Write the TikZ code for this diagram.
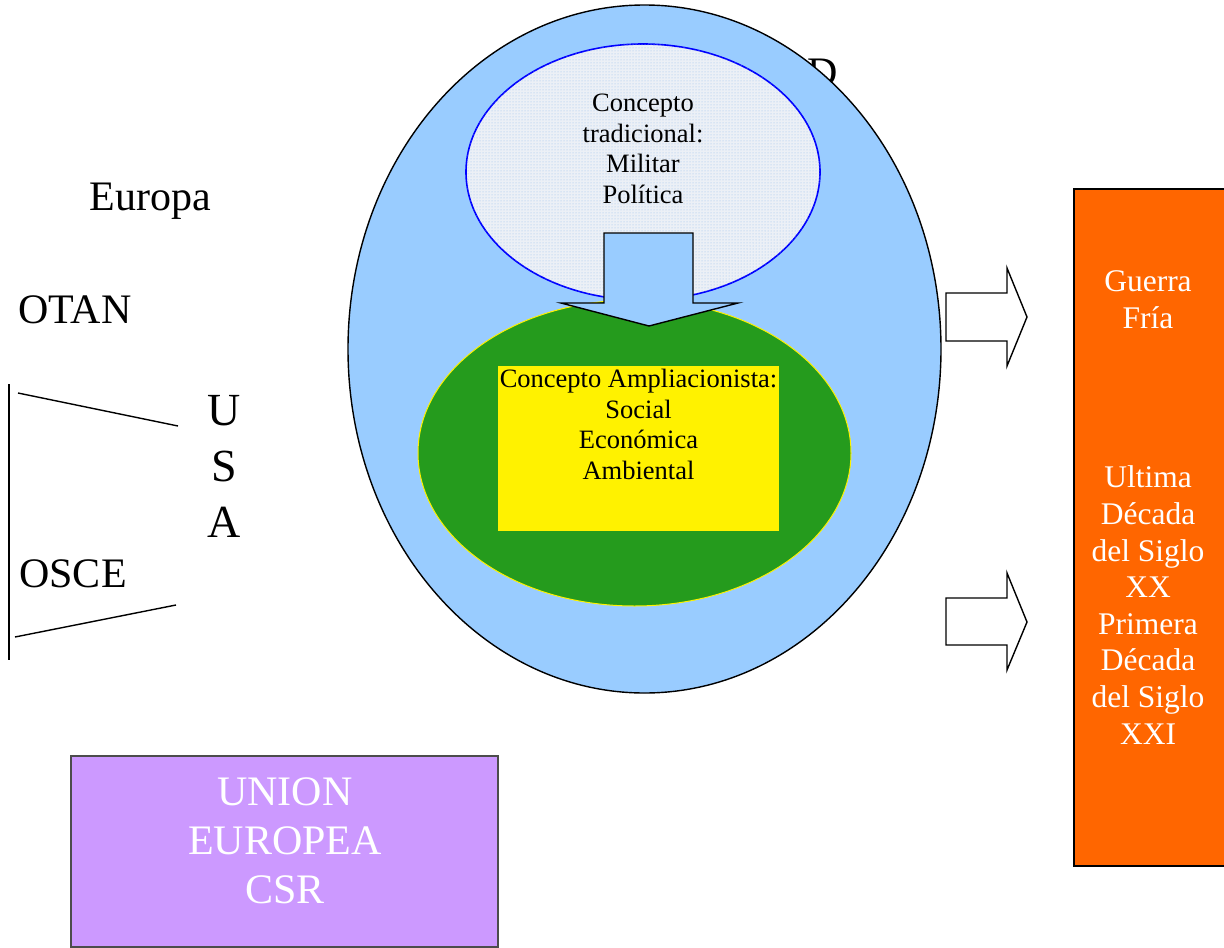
\documentclass[tikz,border=0pt]{standalone}
\usepackage{fontspec}
\setmainfont{Liberation Serif}
\usetikzlibrary{shapes,arrows}
\usetikzlibrary{patterns}
\usetikzlibrary{calc}
\usetikzlibrary{positioning}
\definecolor{cielo}{RGB}{153,204,255}
\definecolor{verde}{RGB}{37,155,29}
\definecolor{naranja}{RGB}{255,102,0}
\definecolor{lila}{RGB}{204,153,255}
\definecolor{puntos}{RGB}{150,190,235}
\definecolor{fondo}{RGB}{236,240,246}
\tikzset{
  etiqueta/.style={align=center, inner sep=0pt, font=\fontsize{42}{49}\selectfont},
  chica/.style={align=center, inner sep=0pt, font=\fontsize{26.5}{30.7}\selectfont},
  epoca/.style={align=center, inner sep=0pt, text=white, font=\fontsize{31.5}{36.6}\selectfont},
  flecha/.style={draw=black, line width=1.4pt, line join=miter}
}
\begin{document}
\begin{tikzpicture}[x=1pt,y=-1pt]
\useasboundingbox (0,0) rectangle (1224,948);
% hidden letter behind the big ellipse
\node[etiqueta, anchor=base] (letraD) at (823,86) {D};
\node[ellipse, draw=black, line width=1.4pt, fill=cielo, minimum width=593pt, minimum height=688pt] (grande) at (644.5,349) {};
\node[ellipse, draw=blue, line width=1.6pt, fill=fondo, postaction={pattern=dots, pattern color=puntos}, minimum width=354pt, minimum height=256pt] (trad) at (643,172) {};
\node[ellipse, draw=yellow, line width=1pt, fill=verde, minimum width=433pt, minimum height=306pt] (ampl) at (634.5,453) {};
\node[fill=yellow, inner sep=0pt, minimum width=281pt, minimum height=165pt] (caja) at (638.5,448.5) {};
\draw[flecha, fill=cielo] (604,233) -- (693,233) -- (693,303) -- (738,303) -- (649,326) -- (561,303) -- (604,303) -- cycle;
\node[chica] (tradtxt) at (643,149) {Concepto\\tradicional:\\Militar\\Política};
\node[chica, anchor=north] (ampltxt) at (caja.north) {\strut Concepto Ampliacionista:\\Social\\Económica\\Ambiental};
% right side arrows
\draw[flecha, fill=white] (946,293) -- (1007,293) -- (1007,268) -- (1027,317) -- (1007,366) -- (1007,341) -- (946,341) -- cycle;
\draw[flecha, fill=white] (946,598) -- (1007,598) -- (1007,573) -- (1027,622) -- (1007,670) -- (1007,645) -- (946,645) -- cycle;
\draw[black, line width=1.4pt, fill=naranja] (1074,189) rectangle (1226,866);
\node[epoca] (guerra) at (1148,300) {Guerra\\Fría};
\node[epoca] (decada) at (1148,605) {Ultima\\Década\\del Siglo\\XX\\Primera\\Década\\del Siglo\\XXI};
% left labels
\node[etiqueta] (europa) at (150,201) {Europa};
\node[etiqueta] (otan) at (75,310) {OTAN};
\node[etiqueta] (osce) at (73,574) {OSCE};
\node[align=center, inner sep=0pt, font=\fontsize{46}{56}\selectfont] (usa) at (224,466) {U\\S\\A};
\coordinate (arriba) at (9,384);
\coordinate (abajo) at (9,660);
\draw[black, line width=1.4pt] (arriba) -- (abajo);
\draw[black, line width=1.4pt] (18,393) -- (178,426);
\draw[black, line width=1.4pt] (15,637) -- (176,605);
\draw[draw=black!70, line width=1.4pt, fill=lila] (71,756) rectangle (498,947);
\node[etiqueta, text=white] (ue) at (285,841) {UNION\\EUROPEA\\CSR};
\end{tikzpicture}
\end{document}
